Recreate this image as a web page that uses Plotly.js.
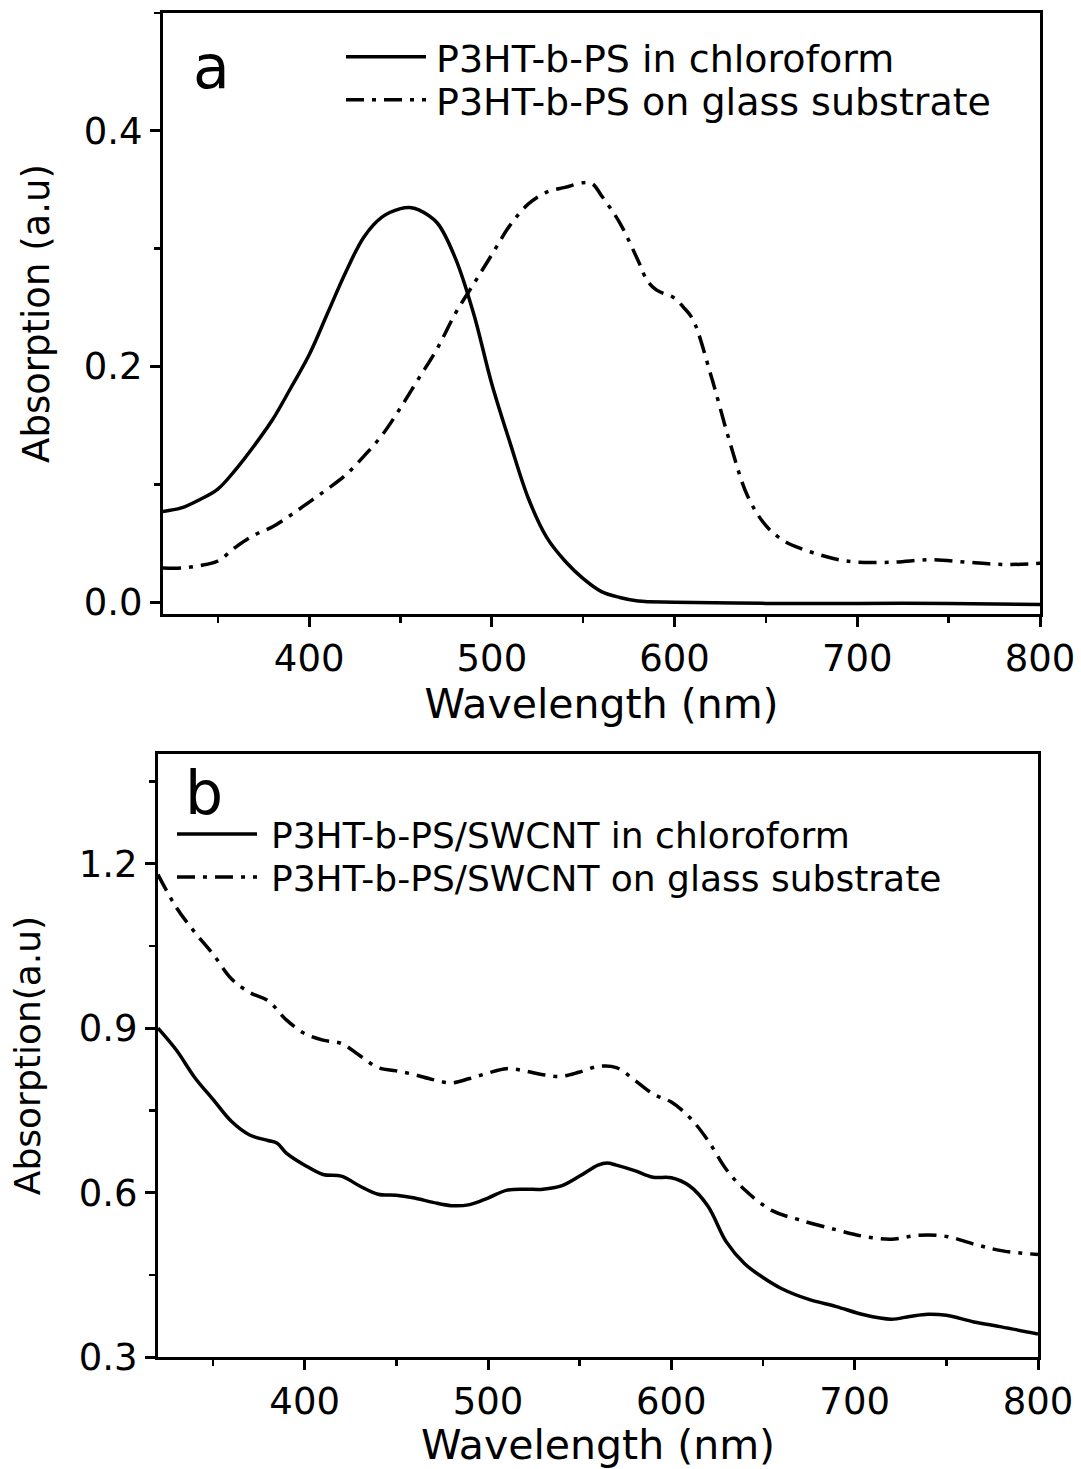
<!DOCTYPE html>
<html><head><meta charset="utf-8">
<script src="https://cdn.plot.ly/plotly-3.0.1.min.js"></script>
<style>html,body{margin:0;padding:0;background:#fff}#chart{width:1081px;height:1469px}</style>
</head><body><div id="chart"></div><script>
// Panel a: P3HT-b-PS in chloroform (solid)
const wlA1 = [320,330,340,350,360,370,380,390,400,410,420,430,440,450,455,460,470,480,490,500,510,520,530,540,550,560,570,580,600,650,700,750,800];
const absA1 = [0.077,0.080,0.087,0.096,0.113,0.133,0.155,0.182,0.210,0.245,0.280,0.310,0.327,0.334,0.335,0.333,0.322,0.292,0.245,0.185,0.135,0.088,0.055,0.035,0.020,0.009,0.004,0.001,0.000,-0.001,-0.001,-0.001,-0.002];
// Panel a: P3HT-b-PS on glass substrate (dash-dot)
const wlA2 = [320,330,340,350,360,370,380,390,400,410,420,430,440,450,460,470,480,490,500,510,520,530,540,550,555,560,570,580,585,590,600,605,610,620,630,640,650,660,670,680,690,700,720,740,760,780,800];
const absA2 = [0.029,0.029,0.031,0.035,0.047,0.057,0.064,0.074,0.085,0.096,0.108,0.124,0.142,0.165,0.190,0.215,0.245,0.270,0.295,0.320,0.338,0.348,0.352,0.356,0.355,0.345,0.322,0.290,0.273,0.265,0.258,0.250,0.240,0.192,0.137,0.090,0.065,0.052,0.045,0.040,0.036,0.034,0.034,0.036,0.034,0.032,0.033];
// Panel b: P3HT-b-PS/SWCNT in chloroform (solid)
const wlB1 = [320,330,340,350,360,370,380,385,390,400,410,420,430,440,450,460,470,480,490,500,510,520,530,540,550,560,565,570,580,590,600,610,620,630,640,650,660,675,690,705,720,730,740,750,765,780,800];
const absB1 = [0.900,0.860,0.810,0.770,0.730,0.705,0.695,0.690,0.672,0.650,0.633,0.630,0.612,0.597,0.595,0.590,0.582,0.576,0.578,0.590,0.604,0.606,0.606,0.612,0.630,0.650,0.654,0.650,0.640,0.628,0.627,0.612,0.575,0.510,0.470,0.445,0.425,0.405,0.392,0.377,0.369,0.374,0.378,0.376,0.364,0.355,0.342];
// Panel b: P3HT-b-PS/SWCNT on glass substrate (dash-dot)
const wlB2 = [320,330,340,350,360,370,380,390,400,410,420,430,440,450,460,470,480,490,500,510,520,530,540,550,560,570,580,590,600,610,620,630,640,655,670,690,705,720,735,750,765,780,800];
const absB2 = [1.180,1.120,1.075,1.035,0.990,0.965,0.950,0.915,0.890,0.878,0.872,0.850,0.828,0.822,0.815,0.806,0.800,0.808,0.818,0.826,0.822,0.815,0.812,0.820,0.830,0.828,0.805,0.780,0.765,0.737,0.695,0.642,0.605,0.567,0.550,0.532,0.520,0.515,0.522,0.520,0.506,0.494,0.487];

const namesA = ['P3HT-b-PS in chloroform', 'P3HT-b-PS on glass substrate'];
const namesB = ['P3HT-b-PS/SWCNT in chloroform', 'P3HT-b-PS/SWCNT on glass substrate'];
const xTitle = 'Wavelength (nm)';
const yTitleA = 'Absorption (a.u)';
const yTitleB = 'Absorption(a.u)';

const W = 1081, H = 1469;
const FONT = 'DejaVu Sans, Liberation Sans, Arial, sans-serif';
const DASHDOT = '18px,8px,4px,8px';

const solid = {color:'#000', width:3.5, shape:'spline', smoothing:1};
const dashdot = {color:'#000', width:3.5, dash:DASHDOT, shape:'spline', smoothing:1};

const traces = [
  {x:wlA1, y:absA1, name:namesA[0], mode:'lines', line:solid, xaxis:'x', yaxis:'y', legend:'legend'},
  {x:wlA2, y:absA2, name:namesA[1], mode:'lines', line:dashdot, xaxis:'x', yaxis:'y', legend:'legend2'},
  {x:wlB1, y:absB1, name:namesB[0], mode:'lines', line:solid, xaxis:'x2', yaxis:'y2', legend:'legend3'},
  {x:wlB2, y:absB2, name:namesB[1], mode:'lines', line:dashdot, xaxis:'x2', yaxis:'y2', legend:'legend4'}
];

function ax(extra){
  return Object.assign({
    showline:true, linecolor:'#000', linewidth:3, mirror:true,
    ticks:'outside', ticklen:10, tickwidth:3, tickcolor:'#000',
    showgrid:false, zeroline:false,
    tickfont:{family:FONT, size:37, color:'#000'}
  }, extra);
}
function leg(x, y, size, iw){
  return {x:x/W, y:1-y/H, xanchor:'left', yanchor:'middle', bgcolor:'rgba(0,0,0,0)', borderwidth:0,
    itemwidth:iw, font:{family:FONT, size:size, color:'#000'}};
}

const layout = {
  width:W, height:H,
  margin:{l:0, r:0, t:0, b:0},
  paper_bgcolor:'#fff', plot_bgcolor:'#fff',
  font:{family:FONT, color:'#000'},
  xaxis: ax({domain:[163/W, 1040/W], range:[320,800], tick0:0, dtick:100, anchor:'y',
    minor:{dtick:50, ticks:'outside', ticklen:6, tickwidth:2.5, tickcolor:'#000', showgrid:false},
    title:{text:xTitle, font:{family:FONT, size:41, color:'#000'}, standoff:10}}),
  yaxis: ax({domain:[1-614/H, 1-13/H], range:[-0.01,0.5], tick0:0, dtick:0.2, tickformat:'.1f', anchor:'x',
    minor:{dtick:0.1, ticks:'outside', ticklen:6, tickwidth:2.5, tickcolor:'#000', showgrid:false},
    title:{text:yTitleA, font:{family:FONT, size:37, color:'#000'}, standoff:23}}),
  xaxis2: ax({domain:[158/W, 1038/W], range:[320,800], tick0:0, dtick:100, anchor:'y2',
    minor:{dtick:50, ticks:'outside', ticklen:6, tickwidth:2.5, tickcolor:'#000', showgrid:false},
    title:{text:xTitle, font:{family:FONT, size:41, color:'#000'}, standoff:12}}),
  yaxis2: ax({domain:[1-1357/H, 1-754/H], range:[0.3,1.4], tick0:0, dtick:0.3, tickformat:'.1f', anchor:'x2',
    minor:{dtick:0.15, ticks:'outside', ticklen:6, tickwidth:2.5, tickcolor:'#000', showgrid:false},
    title:{text:yTitleB, font:{family:FONT, size:36, color:'#000'}, standoff:28}}),
  legend: leg(341, 57, 38, 85),
  legend2: leg(341, 100, 38, 85),
  legend3: leg(172, 834, 36, 89),
  legend4: leg(172, 877, 36, 89),
  showlegend:true,
  annotations:[
    {text:'a', xref:'paper', yref:'paper', x:211/W, y:1-67/H, xanchor:'center', yanchor:'middle', showarrow:false,
     font:{family:FONT, size:60, color:'#000'}},
    {text:'b', xref:'paper', yref:'paper', x:204/W, y:1-793/H, xanchor:'center', yanchor:'middle', showarrow:false,
     font:{family:FONT, size:60, color:'#000'}}
  ]
};

Plotly.newPlot('chart', traces, layout, {staticPlot:true, displayModeBar:false}).then(function(gd){
  // lengthen only the legend line samples to match the original figure
  gd.querySelectorAll('g.legendlines path').forEach(function(p){
    p.setAttribute('d','M5,0h80');
  });
});
</script></body></html>
